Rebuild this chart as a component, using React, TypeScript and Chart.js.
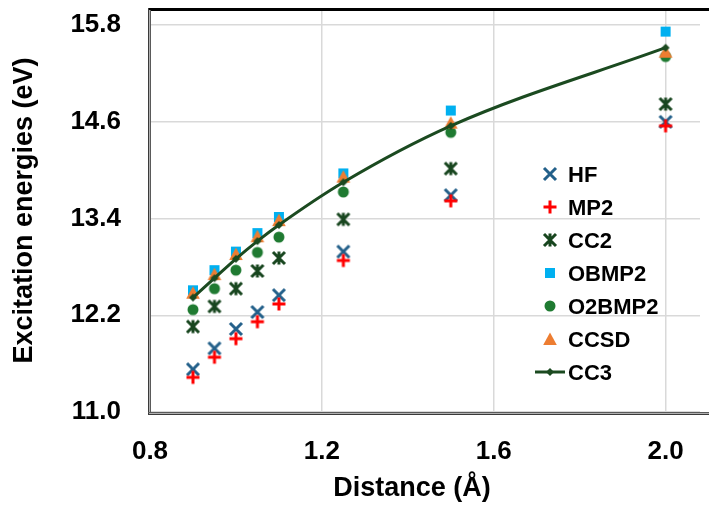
import React, { useEffect, useRef } from 'react';
import { Chart, registerables } from 'chart.js';

Chart.register(...registerables);

const distances = [0.9, 0.95, 1.0, 1.05, 1.1, 1.25, 1.5, 2.0];
const hfValues = [11.53, 11.79, 12.03, 12.24, 12.45, 12.99, 13.69, 14.60];
const mp2Values = [11.43, 11.68, 11.91, 12.12, 12.34, 12.88, 13.62, 14.55];
const cc2Values = [12.06, 12.31, 12.53, 12.75, 12.91, 13.39, 14.02, 14.82];
const obmp2Values = [12.51, 12.76, 12.99, 13.22, 13.42, 13.96, 14.74, 15.72];
const o2bmp2Values = [12.27, 12.53, 12.76, 12.98, 13.17, 13.73, 14.47, 15.41];
const ccsdValues = [12.48, 12.71, 12.96, 13.18, 13.38, 13.92, 14.59, 15.47];
const cc3Values = [12.42, 12.66, 12.90, 13.12, 13.32, 13.85, 14.55, 15.52];

const xTickValues = [0.8, 1.2, 1.6, 2.0];
const yTickValues = [11.0, 12.2, 13.4, 14.6, 15.8];

const xTitle = 'Distance (Å)';
const yTitle = 'Excitation energies (eV)';

const seriesNames = ['HF', 'MP2', 'CC2', 'OBMP2', 'O2BMP2', 'CCSD', 'CC3'];
const seriesValues = [hfValues, mp2Values, cc2Values, obmp2Values, o2bmp2Values, ccsdValues, cc3Values];
const seriesColors = ['#23608a', '#ff0000', '#18461f', '#00b0f0', '#1f7a31', '#ed7d31', '#1b4a20'];
const seriesShapes = ['x', 'plus', 'star', 'square', 'circle', 'triangle', 'diamond'];

const FONT = '"Liberation Sans", Arial, Helvetica, sans-serif';

function makeMarker(kind: string, color: string): HTMLCanvasElement {
  const c = document.createElement('canvas');
  const s = 18;
  c.width = s;
  c.height = s;
  const g = c.getContext('2d')!;
  const m = s / 2;
  g.strokeStyle = color;
  g.fillStyle = color;
  g.lineWidth = 3;
  g.beginPath();
  if (kind === 'x') {
    const h = 6;
    g.moveTo(m - h, m - h); g.lineTo(m + h, m + h);
    g.moveTo(m + h, m - h); g.lineTo(m - h, m + h);
    g.stroke();
  } else if (kind === 'plus') {
    const h = 6.5;
    g.moveTo(m - h, m); g.lineTo(m + h, m);
    g.moveTo(m, m - h); g.lineTo(m, m + h);
    g.stroke();
  } else if (kind === 'star') {
    const h = 6;
    g.moveTo(m - h, m - h); g.lineTo(m + h, m + h);
    g.moveTo(m + h, m - h); g.lineTo(m - h, m + h);
    g.moveTo(m, m - h - 0.5); g.lineTo(m, m + h + 0.5);
    g.stroke();
  } else if (kind === 'square') {
    g.fillRect(m - 5, m - 5, 10, 10);
  } else if (kind === 'circle') {
    g.arc(m, m, 5.5, 0, Math.PI * 2);
    g.fill();
  } else if (kind === 'triangle') {
    g.moveTo(m, m - 6.5);
    g.lineTo(m + 6.8, m + 6);
    g.lineTo(m - 6.8, m + 6);
    g.closePath();
    g.fill();
  } else if (kind === 'diamond') {
    g.moveTo(m, m - 4);
    g.lineTo(m + 4, m);
    g.lineTo(m, m + 4);
    g.lineTo(m - 4, m);
    g.closePath();
    g.fill();
  }
  return c;
}

export default function App() {
  const ref = useRef<HTMLCanvasElement>(null);

  useEffect(() => {
    if (!ref.current) return;
    const markers = seriesShapes.map((k, i) => makeMarker(k, seriesColors[i]));

    const datasets = seriesNames.map((name, i) => {
      const isLine = name === 'CC3';
      return {
        label: name,
        data: distances.map((d, j) => ({ x: d, y: seriesValues[i][j] })),
        pointStyle: markers[i],
        pointRadius: 6,
        pointHoverRadius: 6,
        showLine: isLine,
        borderColor: seriesColors[i],
        backgroundColor: seriesColors[i],
        borderWidth: isLine ? 3 : 0,
        cubicInterpolationMode: 'monotone' as const,
        order: seriesNames.length - i,
      };
    });

    const framePlugin = {
      id: 'frame',
      beforeDatasetsDraw(chart: any) {
        const { ctx, chartArea } = chart;
        const { left, top, bottom } = chartArea;
        ctx.save();
        ctx.fillStyle = '#000';
        ctx.fillRect(left - 2, top - 1, chart.width - left + 2, 3);
        ctx.fillStyle = '#3a3a3a';
        ctx.fillRect(left - 2, top - 1, 1, bottom - top + 4);
        ctx.fillStyle = '#b0b0b0';
        ctx.fillRect(left - 1, top + 1, 1, bottom - top);
        ctx.fillStyle = '#5a5a5a';
        ctx.fillRect(left, top + 1, 1, bottom - top);
        ctx.fillStyle = '#5a5a5a';
        ctx.fillRect(left - 2, bottom, chart.width - left + 2, 1);
        ctx.fillStyle = '#b0b0b0';
        ctx.fillRect(left - 1, bottom + 1, chart.width - left + 1, 1);
        ctx.fillStyle = '#3a3a3a';
        ctx.fillRect(left - 2, bottom + 2, chart.width - left + 2, 1);
        ctx.restore();
      },
    };

    const legendPlugin = {
      id: 'insideLegend',
      afterDraw(chart: any) {
        const { ctx, chartArea } = chart;
        // x-axis title (centred a little left of the clipped axis, as in the reference)
        ctx.save();
        ctx.font = `bold 27px ${FONT}`;
        ctx.fillStyle = '#000';
        ctx.textAlign = 'center';
        ctx.textBaseline = 'middle';
        ctx.fillText(xTitle, chartArea.left + 262, chart.height - 17);
        ctx.restore();

        const mx = chartArea.left + 400;
        const tx = chartArea.left + 418;
        const y0 = chartArea.top + 165;
        const step = 33;
        ctx.save();
        ctx.font = `bold 22px ${FONT}`;
        ctx.fillStyle = '#000';
        ctx.textAlign = 'left';
        ctx.textBaseline = 'alphabetic';
        seriesNames.forEach((name, i) => {
          const y = Math.round(y0 + i * step);
          if (name === 'CC3') {
            ctx.strokeStyle = seriesColors[i];
            ctx.lineWidth = 3;
            ctx.beginPath();
            ctx.moveTo(mx - 15, y);
            ctx.lineTo(mx + 15, y);
            ctx.stroke();
          }
          ctx.drawImage(markers[i], mx - 9, y - 9);
          ctx.fillText(name, tx, y + 8);
        });
        ctx.restore();
      },
    };

    const tickFont = { family: FONT, size: 26, weight: 'bold' as const };
    const titleFont = { family: FONT, size: 27, weight: 'bold' as const };

    const chart = new Chart(ref.current, {
      type: 'scatter',
      data: { datasets: datasets as any },
      options: {
        responsive: false,
        animation: false,
        devicePixelRatio: 1,
        layout: { padding: { top: 9, left: 0, right: 0, bottom: 0 } },
        plugins: {
          legend: { display: false },
          tooltip: { enabled: false },
        },
        scales: {
          x: {
            type: 'linear',
            min: 0.8,
            max: 2.08,
            afterBuildTicks: (s: any) => {
              s.ticks = xTickValues.map((v) => ({ value: v }));
            },
            afterFit: (s: any) => {
              s.height = 94;
              s.paddingLeft = 0;
              s.paddingRight = 0;
            },
            grid: { color: '#d9d9d9', lineWidth: 1.5, drawTicks: false },
            border: { display: false },
            ticks: {
              padding: 24,
              color: '#000',
              font: tickFont,
              maxRotation: 0,
              autoSkip: false,
              callback: (v: any) => Number(v).toFixed(1),
            },
            title: { display: false },
          },
          y: {
            type: 'linear',
            min: 11,
            max: 16,
            afterBuildTicks: (s: any) => {
              s.ticks = yTickValues.map((v) => ({ value: v }));
            },
            afterFit: (s: any) => {
              s.width = 150;
              s.paddingTop = 0;
              s.paddingBottom = 0;
            },
            grid: { color: '#d9d9d9', lineWidth: 1.5, drawTicks: false },
            border: { display: false },
            ticks: {
              padding: 29,
              color: '#000',
              font: tickFont,
              autoSkip: false,
              callback: (v: any) => Number(v).toFixed(1),
            },
            title: {
              display: true,
              text: yTitle,
              color: '#000',
              font: titleFont,
              padding: { top: 8, bottom: 0 },
            },
          },
        },
      },
      plugins: [framePlugin, legendPlugin],
    });

    return () => chart.destroy();
  }, []);

  return (
    <div style={{ position: 'fixed', left: 0, top: 0, width: 709, height: 506, background: '#fff', overflow: 'hidden' }}>
      <canvas ref={ref} width={709} height={506} style={{ display: 'block' }} />
    </div>
  );
}
